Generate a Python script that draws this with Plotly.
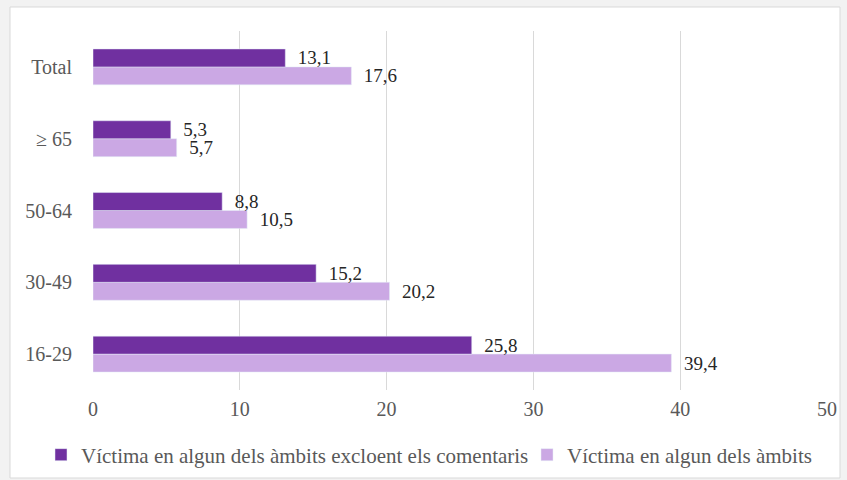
import plotly.graph_objects as go

categories = ["16-29", "30-49", "50-64", "≥ 65", "Total"]
excl_comments = [25.8, 15.2, 8.8, 5.3, 13.1]
all_areas = [39.4, 20.2, 10.5, 5.7, 17.6]
name_excl = "Víctima en algun dels àmbits excloent els comentaris"
name_all = "Víctima en algun dels àmbits"

font = "'Liberation Serif', 'Times New Roman', 'DejaVu Serif', serif"
fs = 20
lfs = 21
fig = go.Figure()
fig.add_trace(go.Bar(
    y=categories, x=all_areas, orientation="h", name=name_all,
    marker=dict(color="#CBA8E4"), text=all_areas,
    texttemplate="  %{x:.1f}", textposition="outside", cliponaxis=False,
    constraintext="none", legend="legend2",
    textfont=dict(family=font, size=19, color="#262626"),
))
fig.add_trace(go.Bar(
    y=categories, x=excl_comments, orientation="h", name=name_excl,
    marker=dict(color="#7030A0"), text=excl_comments,
    texttemplate="  %{x:.1f}", textposition="outside", cliponaxis=False,
    constraintext="none", legend="legend",
    textfont=dict(family=font, size=19, color="#262626"),
))

leg_common = dict(orientation="h", xref="container", xanchor="left",
                  y=-0.181, yanchor="middle",
                  font=dict(family=font, size=lfs, color="#595959"),
                  itemwidth=30, bgcolor="rgba(0,0,0,0)")
fig.update_layout(
    width=847, height=480,
    margin=dict(l=93, r=20, t=31, b=90, autoexpand=False),
    barmode="group", bargap=0.5, bargroupgap=0,
    separators=", ",
    paper_bgcolor="#f2f2f2", plot_bgcolor="rgba(0,0,0,0)",
    font=dict(family=font, size=fs, color="#595959"),
    legend=dict(x=41 / 847, **leg_common),
    legend2=dict(x=527 / 847, **leg_common),
    showlegend=True,
    shapes=[dict(type="rect", xref="paper", yref="paper", layer="below",
                 x0=-83/734, x1=1 + 13/734, y0=-88/359, y1=1 + 24/359,
                 fillcolor="white", line=dict(color="#d9d9d9", width=1))],
)
fig.update_xaxes(range=[0, 50], dtick=10, showgrid=True, gridcolor="#d9d9d9",
                 zeroline=False, ticks="", showline=False, ticklabelstandoff=5,
                 tickfont=dict(family=font, size=fs, color="#595959"))
fig.update_yaxes(showgrid=False, ticks="", ticklabelstandoff=20, automargin=False,
                 tickfont=dict(family=font, size=fs, color="#595959"))

fig.write_html("out.html", post_script="document.body.style.margin='0';",
               config={"displayModeBar": False})
